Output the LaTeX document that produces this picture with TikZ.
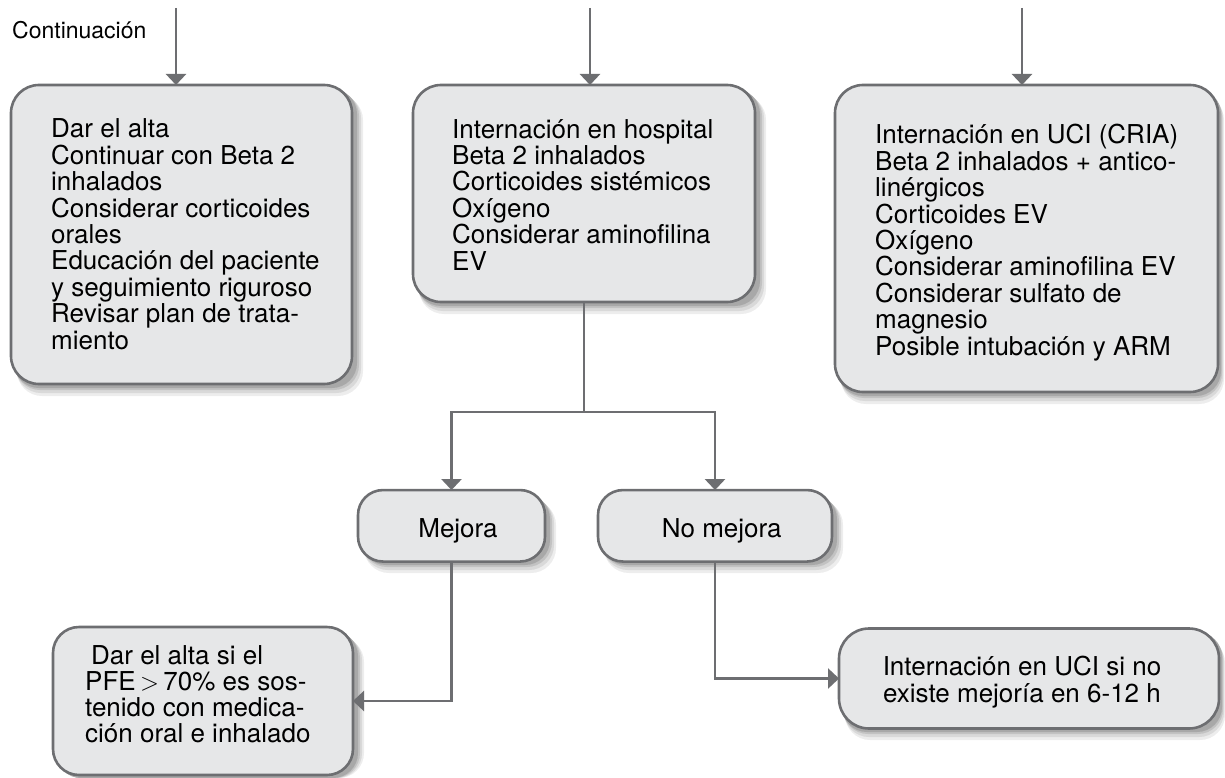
\documentclass[tikz,border=0pt]{standalone}
\usepackage{fontspec}
\setmainfont{TeX Gyre Heros}
\usetikzlibrary{arrows.meta}
\definecolor{linegray}{HTML}{6D6E71}
\definecolor{boxfill}{HTML}{E6E7E8}
\definecolor{shadowa}{HTML}{EDEDED}
\definecolor{shadowb}{HTML}{D9D9D9}
\definecolor{shadowc}{HTML}{C2C2C2}
\definecolor{shadowd}{HTML}{A8A8A8}

\begin{document}
\begin{tikzpicture}[x=1pt,y=-1pt,
  box/.style={draw=linegray, line width=2.6pt, fill=boxfill, rounded corners=28pt,
    inner sep=0pt, outer sep=0pt},
  shadowbox/.style={rounded corners=25pt},
  txt/.style={inner sep=0pt, align=left, font=\fontsize{26}{26.4}\selectfont},
  flow/.style={draw=linegray, line width=2.6pt, -{Triangle[length=11pt,width=20pt]}},
  link/.style={draw=linegray, line width=2.6pt}]
\useasboundingbox (0,0) rectangle (1225,778);

% soft shadows, drawn first so the boxes cover them
\fill[shadowbox, shadowa] (17,95) rectangle (363,396);
\fill[shadowbox, shadowb] (16,93) rectangle (361,393);
\fill[shadowbox, shadowc] (15,91) rectangle (359,390);
\fill[shadowbox, shadowd] (14,89) rectangle (357,388);

\fill[shadowbox, shadowa] (419,95) rectangle (766,314);
\fill[shadowbox, shadowb] (418,93) rectangle (764,311);
\fill[shadowbox, shadowc] (417,91) rectangle (762,308);
\fill[shadowbox, shadowd] (416,89) rectangle (760,306);

\fill[shadowbox, shadowa] (841,95) rectangle (1224,404);
\fill[shadowbox, shadowb] (840,93) rectangle (1223,401);
\fill[shadowbox, shadowc] (839,91) rectangle (1222,398);
\fill[shadowbox, shadowd] (838,89) rectangle (1221,396);

\fill[shadowbox, shadowa] (364,500) rectangle (556,573);
\fill[shadowbox, shadowb] (363,498) rectangle (554,570);
\fill[shadowbox, shadowc] (362,496) rectangle (552,567);
\fill[shadowbox, shadowd] (361,494) rectangle (550,565);

\fill[shadowbox, shadowa] (604,500) rectangle (843,573);
\fill[shadowbox, shadowb] (603,498) rectangle (841,570);
\fill[shadowbox, shadowc] (602,496) rectangle (839,567);
\fill[shadowbox, shadowd] (601,494) rectangle (837,565);

\fill[shadowbox, shadowa] (59,637) rectangle (364,778);
\fill[shadowbox, shadowb] (58,635) rectangle (362,778);
\fill[shadowbox, shadowc] (57,633) rectangle (360,778);
\fill[shadowbox, shadowd] (56,631) rectangle (358,778);

\fill[shadowbox, shadowa] (845,638) rectangle (1225,740);
\fill[shadowbox, shadowb] (844,636) rectangle (1224,737);
\fill[shadowbox, shadowc] (843,634) rectangle (1223,734);
\fill[shadowbox, shadowd] (842,632) rectangle (1222,732);

\node[inner sep=0pt, anchor=base west, font=\fontsize{23}{26}\selectfont] (cont) at (12,39) {Continuación};

% upper row
\node[box, minimum width=341pt, minimum height=299pt] (alta) at (181.5,234.5) {};
\node[box, minimum width=342pt, minimum height=217pt] (hosp) at (584,193.5) {};
\node[box, minimum width=383pt, minimum height=307pt] (uci) at (1026.5,238.5) {};

% texts sit on the baseline of their last line
\node[txt, anchor=base west] (altatxt) at (51,349) {Dar el alta\\Continuar con Beta 2\\inhalados\\Considerar corticoides\\orales\\Educación del paciente\\y seguimiento riguroso\\Revisar plan de trata-\\miento};
\node[txt, anchor=base west] (hosptxt) at (452,270) {Internación en hospital\\Beta 2 inhalados\\Corticoides sistémicos\\Oxígeno\\Considerar aminofilina\\EV};
\node[txt, anchor=base west] (ucitxt) at (875,355) {Internación en UCI (CRIA)\\Beta 2 inhalados + antico-\\linérgicos\\Corticoides EV\\Oxígeno\\Considerar aminofilina EV\\Considerar sulfato de\\magnesio\\Posible intubación y ARM};

% middle row
\node[box, rounded corners=25pt, minimum width=187pt, minimum height=71.5pt] (mejora) at (451.5,525.8) {};
\node[box, rounded corners=25pt, minimum width=234pt, minimum height=71.5pt] (nomejora) at (715,525.8) {};
\node[txt, anchor=base] (mejoratxt) at (458,537) {Mejora};
\node[txt, anchor=base] (nomejoratxt) at (721.7,537) {No mejora};

% lower row
\node[box, rounded corners=26pt, minimum width=300pt, minimum height=148pt] (altasi) at (203,701) {};
\node[box, rounded corners=30pt, minimum width=380pt, minimum height=100pt] (ucisi) at (1029,678.5) {};
\node[txt, anchor=base west, font=\fontsize{26}{25.7}\selectfont] (altasitxt) at (85,742) {\hspace*{6pt}Dar el alta si el\\PFE\,$>$\,70\% es sos-\\tenido con medica-\\ción oral e inhalado};
\node[txt, align=center, anchor=base, font=\fontsize{26}{27.5}\selectfont] (ucisitxt) at (1022,702.5) {Internación en UCI si no\\existe mejoría en 6-12 h};

% connectors
\coordinate (inalta) at (176,8);
\coordinate (inhosp) at (590,8);
\coordinate (inuci) at (1022,8);
\draw[flow] (inalta) -- (inalta |- alta.north);
\draw[flow] (inhosp) -- (inhosp |- hosp.north);
\draw[flow] (inuci) -- (inuci |- uci.north);

\coordinate (split) at (584,412);
\draw[link] (hosp.south) -- (split);
\draw[flow] (split) -| (mejora.north);
\draw[flow] (split) -| (nomejora.north);
\draw[flow] (mejora.south) |- (altasi.east);
\draw[flow] (nomejora.south) |- (ucisi.west);
\end{tikzpicture}
\end{document}
